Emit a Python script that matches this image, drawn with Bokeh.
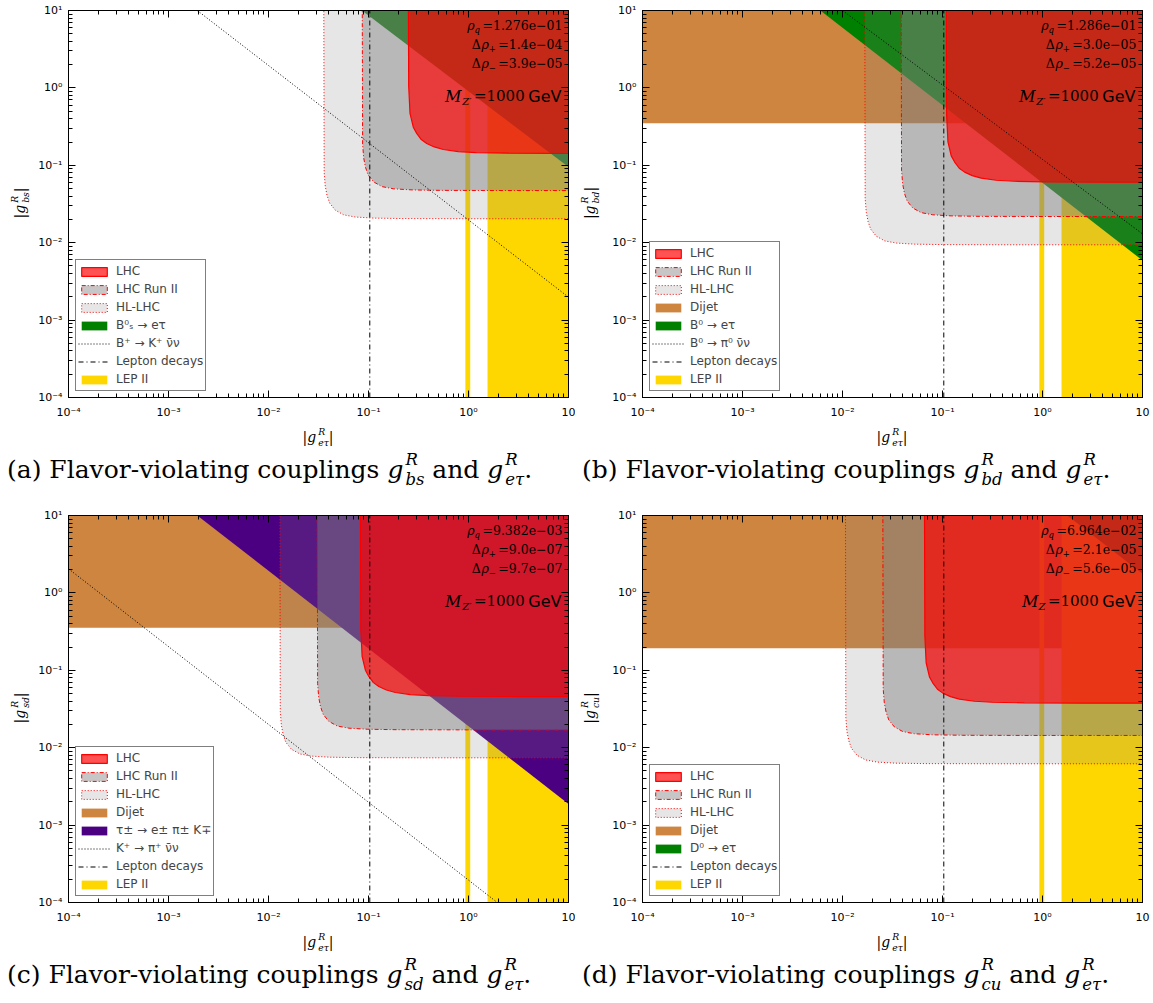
import json
from bokeh.plotting import figure
from bokeh.models import (LogAxis, FixedTicker, CustomJSTickFormatter, Label, Legend,
                          LegendItem, Div, Range1d)
from bokeh.layouts import row, column
from bokeh.embed import file_html
from bokeh.resources import INLINE

# ---------------------------------------------------------------- data
panel_letters = ["a", "b", "c", "d"]
quark_pairs = ["bs", "bd", "sd", "cu"]

tick_values = [1e-4, 1e-3, 1e-2, 1e-1, 1.0, 10.0]
x_tick_labels = ["10⁻⁴", "10⁻³", "10⁻²", "10⁻¹", "10⁰", "10"]
y_tick_labels = ["10⁻⁴", "10⁻³", "10⁻²", "10⁻¹", "10⁰", "10¹"]

# corners (vertical / horizontal asymptotes) of the collider exclusion regions
lhc_x0 = [0.25, 0.109, 0.083, 0.066]
lhc_y0 = [0.142, 0.0605, 0.0458, 0.0376]
run2_x0 = [0.0865, 0.0386, 0.0307, 0.0253]
run2_y0 = [0.0472, 0.0218, 0.0170, 0.0144]
hl_x0 = [0.0357, 0.0167, 0.0130, 0.0107]
hl_y0 = [0.0204, 0.0094, 0.0074, 0.0062]

# rounded-corner shape (offsets in decades from the corner)
lhc_bend_dx = [0.004, 0.017, 0.05, 0.084, 0.13, 0.184, 0.26, 0.35, 0.5, 0.68, 1.0, 1.6]
lhc_bend_dy = [0.87, 0.52, 0.34, 0.26, 0.18, 0.13, 0.085, 0.052, 0.025, 0.012, 0.004, 0.0]
proj_bend_dx = [0.004, 0.015, 0.033, 0.06, 0.116, 0.2, 0.316, 0.5, 0.8, 1.5]
proj_bend_dy = [0.6, 0.42, 0.30, 0.2, 0.11, 0.05, 0.022, 0.008, 0.002, 0.0]

dijet_y = [None, 0.35, 0.354, 0.193]

flavor_labels = ["B⁰ₛ → eτ", "B⁰ → eτ", "τ± → e± π± K∓", "D⁰ → eτ"]
flavor_colors = ["#008000", "#008000", "#4B0082", "#008000"]
flavor_top_x = [0.086, 0.006, 0.00194, 1.77]
flavor_right_y = [0.095, 0.0059, 0.00188, 1.77]

meson_labels = ["B⁺ → K⁺ ν̄ν", "B⁰ → π⁰ ν̄ν", "K⁺ → π⁺ ν̄ν", None]
meson_x = [[0.00194, 10.0], [0.0100, 10.0], [1e-4, 1.94], None]
meson_y = [[10.0, 0.00198], [10.0, 0.013], [2.05, 1e-4], None]

lepton_x = 0.103
lep_left = [0.93, 1.55]
lep_right = [1.04, 10.0]

rho_q = ["1.276e−01", "1.286e−01", "9.382e−03", "6.964e−02"]
drho_plus = ["1.4e−04", "3.0e−05", "9.0e−07", "2.1e−05"]
drho_minus = ["3.9e−05", "5.2e−05", "9.7e−07", "5.6e−05"]
mz_sub = ["Z′", "Z′", "Z′", "Z"]
mz_value = "1000"

# ---------------------------------------------------------------- style
FW, FH = 500, 387
TOP_B, BOT_B = 10, 26
FIG_H = TOP_B + FH + BOT_B
X_LO, X_HI = 1e-4, 10.0
Y_LO, Y_HI = 1e-4, 10.0
FAR = 20.0
SERIF = "DejaVu Serif"
SANS = "DejaVu Sans"
LHC_RED = "#ff0000"
GRAY = "#808080"
DIJET = "#CD853F"
LEP = "#FFD700"

ADV = {".": .318, "e": .592, "−": .838, "=": .838, "+": .838, "q": .64, "ρ": .64,
       "Δ": .76, "M": .99, "Z": .70, "′": .30, "G": .775, "V": .684}
for dgt in "0123456789":
    ADV[dgt] = .636


def est(s, size):
    return sum(ADV.get(c, .6) for c in s) * size


minor_ticks = [m * t for t in tick_values[:-1] for m in range(2, 10)]


def tick_formatter(labels):
    code = ("const L = %s; const i = Math.round(Math.log10(tick)) + 4;"
            "return (i >= 0 && i < L.length) ? L[i] : '';" % json.dumps(labels, ensure_ascii=False))
    return CustomJSTickFormatter(code=code)


def style_axis(ax, labels=None, standoff=6):
    ax.ticker = FixedTicker(ticks=tick_values, minor_ticks=minor_ticks)
    ax.axis_line_color = "black"
    ax.major_tick_line_color = "black"
    ax.minor_tick_line_color = "black"
    ax.major_tick_in = 7
    ax.major_tick_out = 0
    ax.minor_tick_in = 4
    ax.minor_tick_out = 0
    if labels is None:
        ax.formatter = CustomJSTickFormatter(code="return '';")
        ax.major_label_text_font_size = "1px"
        ax.major_label_text_alpha = 0.0
        ax.major_label_standoff = 0
    else:
        ax.formatter = tick_formatter(labels)
        ax.major_label_text_font = SANS
        ax.major_label_text_font_size = "11px"
        ax.major_label_text_color = "black"
        ax.major_label_standoff = standoff


def add_text(p, x, y, text, size, font=SERIF, style="normal", align="left"):
    p.add_layout(Label(x=x, y=y, x_units="screen", y_units="screen", text=text,
                       text_font=font, text_font_size="%.1fpx" % size, text_font_style=style,
                       text_align=align, text_baseline="middle", text_color="black"))


def bend_outline(x0, y0, dxs, dys):
    xs = [x0] + [x0 * 10 ** dx for dx in dxs] + [FAR, FAR]
    ys = [FAR] + [y0 * 10 ** dy for dy in dys] + [y0, FAR]
    return xs, ys


def make_panel(i, left_b, right_b):
    p = figure(frame_width=FW, frame_height=FH, x_axis_type="log", y_axis_type="log",
               x_range=Range1d(X_LO, X_HI), y_range=Range1d(Y_LO, Y_HI),
               output_backend="svg", toolbar_location=None,
               min_border_left=left_b, min_border_right=right_b,
               min_border_top=TOP_B, min_border_bottom=BOT_B)
    p.xgrid.visible = False
    p.ygrid.visible = False
    p.outline_line_color = "black"
    p.outline_line_width = 1
    p.background_fill_color = "white"
    p.border_fill_color = "white"
    style_axis(p.xaxis[0], x_tick_labels, standoff=8)
    style_axis(p.yaxis[0], y_tick_labels, standoff=6)
    top = LogAxis()
    right = LogAxis()
    style_axis(top)
    style_axis(right)
    p.add_layout(top, "above")
    p.add_layout(right, "right")

    r_dijet = None
    if dijet_y[i] is not None:
        r_dijet = p.quad(left=[X_LO], right=[X_HI], bottom=[dijet_y[i]], top=[Y_HI],
                         fill_color=DIJET, line_color=None)
    r_lep = p.quad(left=lep_left, right=lep_right, bottom=[Y_LO] * 2, top=[Y_HI] * 2,
                   fill_color=LEP, line_color=None)
    r_flav = p.patch([flavor_top_x[i], X_HI, X_HI], [Y_HI, flavor_right_y[i], Y_HI],
                     fill_color=flavor_colors[i], line_color=None)
    hx, hy = bend_outline(hl_x0[i], hl_y0[i], proj_bend_dx, proj_bend_dy)
    r_hl = p.patch(hx, hy, fill_color=GRAY, fill_alpha=0.2, line_color="red",
                   line_width=1, line_dash="1 2")
    rx, ry = bend_outline(run2_x0[i], run2_y0[i], proj_bend_dx, proj_bend_dy)
    r_run2 = p.patch(rx, ry, fill_color=GRAY, fill_alpha=0.45, line_color="red",
                     line_width=1, line_dash="4 2 1 2")
    lx, ly = bend_outline(lhc_x0[i], lhc_y0[i], lhc_bend_dx, lhc_bend_dy)
    r_lhc = p.patch(lx, ly, fill_color=LHC_RED, fill_alpha=0.68, line_color="red",
                    line_width=1.2)
    r_meson = None
    if meson_x[i] is not None:
        r_meson = p.line(meson_x[i], meson_y[i], line_color="black", line_width=1,
                         line_dash="1 2")
    r_lepton = p.line([lepton_x, lepton_x], [Y_LO, Y_HI], line_color="black",
                      line_width=1, line_dash="5 3 1 3")

    items = [LegendItem(label="LHC", renderers=[r_lhc]),
             LegendItem(label="LHC Run II", renderers=[r_run2]),
             LegendItem(label="HL-LHC", renderers=[r_hl])]
    if r_dijet is not None:
        items.append(LegendItem(label="Dijet", renderers=[r_dijet]))
    items.append(LegendItem(label=flavor_labels[i], renderers=[r_flav]))
    if r_meson is not None:
        items.append(LegendItem(label=meson_labels[i], renderers=[r_meson]))
    items.append(LegendItem(label="Lepton decays", renderers=[r_lepton]))
    items.append(LegendItem(label="LEP II", renderers=[r_lep]))
    leg = Legend(items=items, location=(7, 6), border_line_color="black",
                 border_line_width=1, background_fill_color="white",
                 background_fill_alpha=1.0, padding=2, spacing=0, margin=0,
                 glyph_width=32, glyph_height=11, label_standoff=6, label_height=18,
                 label_text_font=SANS, label_text_font_size="12px")
    p.add_layout(leg)

    # parameter annotations (top right)
    R = FW - 6
    rows = [("ρ", None, "q", "=" + rho_q[i], 15),
            ("ρ", "Δ", "+", "=" + drho_plus[i], 33.5),
            ("ρ", "Δ", "−", "=" + drho_minus[i], 52.5)]
    for sym, pre, sub, val, below in rows:
        y = FH - below
        add_text(p, R, y, val, 12.5, align="right")
        xl = R - est(val, 12.5) - 2.5
        add_text(p, xl, y - 4, sub, 8.5, style="italic", align="right")
        xl -= est(sub, 8.5)
        add_text(p, xl, y, sym, 12.5, style="italic", align="right")
        xl -= est(sym, 12.5)
        if pre:
            add_text(p, xl, y, pre, 12.5, align="right")
    y4 = FH - 85.5
    add_text(p, FW - 7, y4, "GeV", 16, font=SANS, align="right")
    xl = FW - 7 - est("GeV", 16) - 4
    add_text(p, xl, y4, "=" + mz_value, 15, align="right")
    xl -= est("=" + mz_value, 15) + 2.5
    add_text(p, xl, y4 - 5, mz_sub[i], 10, style="italic", align="right")
    xl -= est(mz_sub[i], 10)
    add_text(p, xl, y4, "M", 16, style="italic", align="right")
    return p


def gsym(sub, shift="-0.45em"):
    return ('<i>g</i><span style="display:inline-block;vertical-align:%s;'
            'font-size:0.66em;line-height:1.2;margin-left:2px;text-align:left;">'
            '<i>R</i><br><i>%s</i></span>' % (shift, sub))


def ylabel_div(i, width, cx):
    html = ('<div style="position:relative;width:%dpx;height:%dpx;">'
            '<div style="position:absolute;left:%dpx;top:%dpx;transform:translate(-50%%,-50%%) rotate(-90deg);'
            'font-family:\'DejaVu Serif\',serif;font-size:14px;color:#000;white-space:nowrap;line-height:1;">'
            '|%s|</div></div>' % (width, FIG_H, cx, TOP_B + FH // 2, gsym(quark_pairs[i])))
    return Div(text=html, width=width, height=FIG_H, margin=0)


def caption_div(i, width, height, label_cx):
    html = ('<div style="position:relative;width:%dpx;height:%dpx;font-family:\'DejaVu Serif\',serif;color:#000;">'
            '<div style="position:absolute;left:%dpx;top:14px;transform:translate(-50%%,-50%%);'
            'font-size:14px;white-space:nowrap;line-height:1;">|%s|</div>'
            '<div style="position:absolute;left:7px;top:47px;transform:translateY(-50%%);'
            'font-size:25px;white-space:nowrap;line-height:1.1;">(%s) Flavor-violating couplings %s and %s.</div>'
            '</div>' % (width, height, label_cx, gsym("eτ"), panel_letters[i],
                        gsym(quark_pairs[i]), gsym("eτ")))
    return Div(text=html, width=width, height=height, margin=0)


YL_A, YL_B = 34, 34
pa = make_panel(0, 68 - YL_A, 7)
pb = make_panel(1, 67 - YL_B, 11)
pc = make_panel(2, 68 - YL_A, 7)
pd = make_panel(3, 67 - YL_B, 11)

cap_h1 = 505 - FIG_H
cap_h2 = 1003 - (FIG_H + cap_h1 + FIG_H)

layout = column(
    row(ylabel_div(0, YL_A, 20), pa, ylabel_div(1, YL_B, 15), pb),
    row(caption_div(0, 575, cap_h1, 318), caption_div(1, 578, cap_h1, 317)),
    row(ylabel_div(2, YL_A, 20), pc, ylabel_div(3, YL_B, 15), pd),
    row(caption_div(2, 575, cap_h2, 318), caption_div(3, 578, cap_h2, 317)),
)

with open("out.html", "w", encoding="utf-8") as f:
    f.write(file_html(layout, INLINE))
